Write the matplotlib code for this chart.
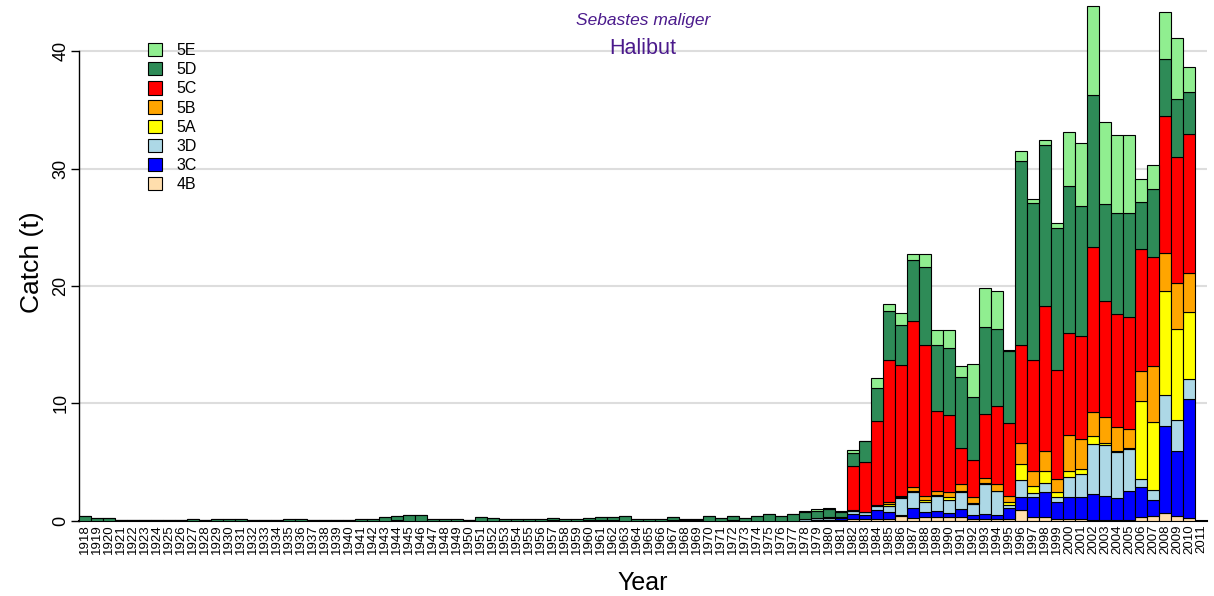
import numpy as np
import matplotlib
matplotlib.use('Agg')
import matplotlib.pyplot as plt
from matplotlib.patches import Patch

plt.rcParams['font.family'] = ['Liberation Sans', 'DejaVu Sans']

# 年 (1918-2011)
years = np.arange(1918, 2012)

# 各エリアの漁獲量 (t) ----------------------------------------------
c4B = [0, 0, 0, 0, 0, 0, 0, 0, 0, 0,                       # 1918-1927
       0, 0, 0, 0, 0, 0, 0, 0, 0, 0,                       # 1928-1937
       0, 0, 0, 0, 0, 0, 0, 0, 0, 0,                       # 1938-1947
       0, 0, 0, 0, 0, 0, 0, 0, 0, 0,                       # 1948-1957
       0, 0, 0, 0, 0, 0, 0, 0, 0, 0,                       # 1958-1967
       0, 0, 0, 0, 0, 0, 0, 0, 0, 0,                       # 1968-1977
       0, 0, 0, 0.05,                                      # 1978-1981
       0.17, 0.11, 0.17, 0.17, 0.37, 0.23, 0.31, 0.31, 0.31, 0.31,
       0.17, 0.17, 0.14, 0.14, 0.86, 0.29, 0.29, 0.14, 0.09, 0.14,
       0.06, 0.06, 0.06, 0.06, 0.32, 0.37, 0.60, 0.40, 0.23, 0]
c3C = [0, 0, 0, 0, 0, 0, 0, 0, 0, 0,
       0, 0, 0, 0, 0, 0, 0, 0, 0, 0,
       0, 0, 0, 0, 0, 0, 0, 0, 0, 0,
       0, 0, 0, 0, 0, 0, 0, 0, 0, 0,
       0, 0, 0, 0, 0, 0, 0, 0, 0, 0,
       0, 0, 0, 0, 0, 0, 0, 0, 0, 0,
       0, 0.05, 0.05, 0.15,
       0.39, 0.40, 0.76, 0.56, 0.14, 0.81, 0.42, 0.54, 0.34, 0.68,
       0.34, 0.39, 0.37, 0.93, 1.18, 1.75, 2.16, 1.47, 1.95, 1.90,
       2.18, 2.04, 1.90, 2.47, 2.50, 1.36, 7.46, 5.50, 10.16, 0]
c3D = [0, 0, 0, 0, 0, 0, 0, 0, 0, 0,
       0, 0, 0, 0, 0, 0, 0, 0, 0, 0,
       0, 0, 0, 0, 0, 0, 0.05, 0, 0, 0,
       0, 0, 0, 0, 0, 0, 0, 0, 0, 0.08,
       0, 0, 0.08, 0.08, 0.05, 0, 0, 0, 0, 0.08,
       0.08, 0.08, 0, 0, 0.08, 0, 0, 0, 0, 0,
       0.10, 0.20, 0.20, 0.10,
       0.29, 0.19, 0.34, 0.54, 1.41, 1.38, 0.85, 1.21, 1.12, 1.43,
       0.90, 2.54, 1.97, 0.28, 1.41, 0.29, 0.74, 0.43, 1.70, 1.93,
       4.26, 4.32, 3.88, 3.60, 0.72, 0.86, 2.67, 2.68, 1.64, 0]
c5A = [0, 0, 0, 0, 0, 0, 0, 0, 0, 0,
       0, 0, 0, 0, 0, 0, 0, 0, 0, 0,
       0, 0, 0, 0, 0, 0, 0, 0, 0, 0,
       0, 0, 0, 0, 0, 0, 0, 0, 0, 0,
       0, 0, 0, 0, 0, 0, 0, 0, 0, 0,
       0, 0, 0, 0, 0, 0, 0, 0, 0, 0,
       0, 0, 0, 0,
       0.03, 0, 0.03, 0.14, 0.08, 0.12, 0.14, 0.14, 0.23, 0.06,
       0.08, 0.08, 0.06, 0.20, 1.38, 0.63, 1.07, 0.35, 0.46, 0.38,
       0.69, 0.23, 0.09, 0.09, 6.62, 5.84, 8.87, 7.71, 5.75, 0]
c5B = [0, 0, 0, 0, 0, 0, 0, 0, 0, 0,
       0, 0, 0, 0, 0, 0, 0, 0, 0, 0,
       0, 0, 0, 0, 0, 0, 0, 0, 0, 0,
       0, 0, 0, 0, 0, 0, 0, 0, 0, 0,
       0, 0, 0, 0, 0, 0, 0, 0, 0, 0,
       0, 0, 0, 0, 0, 0, 0, 0, 0, 0,
       0, 0, 0, 0,
       0.05, 0.02, 0.05, 0.17, 0.11, 0.31, 0.34, 0.28, 0.42, 0.65,
       0.51, 0.48, 0.59, 0.51, 1.79, 1.24, 1.64, 1.15, 3.08, 2.59,
       2.10, 2.21, 2.01, 1.58, 2.59, 4.75, 3.22, 4.00, 3.31, 0]
c5C = [0, 0, 0, 0, 0, 0, 0, 0, 0, 0,
       0, 0, 0, 0, 0, 0, 0, 0, 0, 0,
       0, 0, 0, 0, 0, 0, 0, 0, 0, 0,
       0, 0, 0, 0, 0, 0, 0, 0, 0, 0,
       0, 0, 0, 0, 0, 0, 0, 0, 0, 0,
       0, 0, 0, 0, 0, 0, 0, 0, 0, 0,
       0, 0, 0.05, 0,
       3.72, 4.24, 7.13, 12.13, 11.18, 14.18, 12.93, 6.84, 6.59, 3.07,
       3.13, 5.43, 6.62, 6.27, 8.34, 9.50, 12.40, 9.29, 8.69, 8.83,
       14.05, 9.87, 9.64, 9.55, 10.44, 9.29, 11.65, 10.67, 11.89, 0]
c5D = [0.40, 0.18, 0.18, 0.08, 0.06, 0.06, 0.06, 0.06, 0.08, 0.15,
       0.08, 0.15, 0.10, 0.10, 0.08, 0.05, 0.03, 0.10, 0.10, 0.08,
       0.08, 0.03, 0.05, 0.10, 0.12, 0.30, 0.30, 0.45, 0.45, 0.12,
       0.15, 0.15, 0.08, 0.30, 0.20, 0.15, 0.15, 0.15, 0.10, 0.17,
       0.10, 0.15, 0.17, 0.22, 0.25, 0.35, 0.12, 0.12, 0.12, 0.22,
       0.07, 0.07, 0.35, 0.25, 0.32, 0.25, 0.35, 0.54, 0.40, 0.54,
       0.60, 0.55, 0.65, 0.45,
       1.12, 1.80, 2.82, 4.17, 3.40, 5.15, 6.62, 5.64, 5.66, 6.01,
       5.38, 7.37, 6.62, 6.15, 15.69, 13.38, 13.73, 12.09, 12.55, 11.02,
       12.95, 8.27, 8.61, 8.84, 4.00, 5.82, 4.90, 5.01, 3.57, 0]
c5E = [0, 0, 0, 0, 0, 0, 0, 0, 0, 0,
       0, 0, 0, 0, 0, 0, 0, 0, 0, 0,
       0, 0, 0, 0, 0, 0, 0, 0, 0, 0,
       0, 0, 0, 0, 0, 0, 0, 0, 0, 0,
       0, 0, 0, 0, 0, 0, 0, 0, 0, 0,
       0, 0, 0, 0, 0, 0, 0, 0, 0, 0,
       0.10, 0.15, 0.15, 0.10,
       0.20, 0.06, 0.85, 0.56, 0.99, 0.51, 1.08, 1.30, 1.59, 0.93,
       2.83, 3.34, 3.21, 0.08, 0.85, 0.32, 0.43, 0.43, 4.60, 5.38,
       7.62, 6.99, 6.70, 6.70, 1.96, 2.04, 3.97, 5.18, 2.10, 0]

areas = ['4B', '3C', '3D', '5A', '5B', '5C', '5D', '5E']
colors = ['navajowhite', 'blue', 'lightblue', 'yellow', 'orange', 'red', 'seagreen', 'lightgreen']
series = [c4B, c3C, c3D, c5A, c5B, c5C, c5D, c5E]

fig = plt.figure(figsize=(12.14, 5.96), dpi=100)
ax = fig.add_axes([79 / 1214, 75.5 / 596, 1128 / 1214, 516 / 596])

# 積み上げ棒グラフ
bottom = np.zeros(len(years))
for name, col, vals in zip(areas, colors, series):
    vals = np.array(vals, dtype=float)
    ax.bar(years, vals, bottom=bottom, width=0.95, color=col,
           edgecolor='black', linewidth=0.8, zorder=3)
    bottom += vals

ax.set_xlim(1917.5, 2011.5)
ax.set_ylim(0, 44)

# グリッド
for g in [10, 20, 30, 40]:
    ax.axhline(g, color='#dddddd', linewidth=1.5, zorder=1)

ax.spines['top'].set_visible(False)
ax.spines['right'].set_visible(False)
ax.spines['left'].set_bounds(0, 40)
ax.spines['left'].set_linewidth(1.0)
ax.spines['bottom'].set_linewidth(1.5)

ax.set_yticks([0, 10, 20, 30, 40])
ax.set_yticklabels(['0', '10', '20', '30', '40'], rotation=90, va='center')
ax.tick_params(axis='y', length=6, width=1, labelsize=13, pad=1)
ax.set_xticks(years)
ax.set_xticklabels([str(y) for y in years], rotation=90, fontsize=9.5)
ax.tick_params(axis='x', length=0, pad=3)

ax.set_xlabel('Year', fontsize=18, labelpad=12)
ax.set_ylabel('Catch (t)', fontsize=19, labelpad=6)

# タイトル
fig.text(643 / 1214, 1 - 20 / 596, 'Sebastes maliger', ha='center', va='center',
         fontsize=12.5, style='italic', color='#4b1a8c')
fig.text(643 / 1214, 1 - 49 / 596, 'Halibut', ha='center', va='center',
         fontsize=15.5, color='#4b1a8c')

# 凡例
handles = [Patch(facecolor=c, edgecolor='black', linewidth=0.8) for c in colors]
ax.legend(handles[::-1], areas[::-1], loc='upper left', bbox_to_anchor=(148 / 1214, 1 - 43 / 596),
          bbox_transform=fig.transFigure, frameon=False, fontsize=11.5,
          handlelength=0.9, handleheight=0.9, handletextpad=0.9, labelspacing=0.25,
          borderpad=0, borderaxespad=0)

plt.savefig('out.png', dpi=100)
plt.close()
